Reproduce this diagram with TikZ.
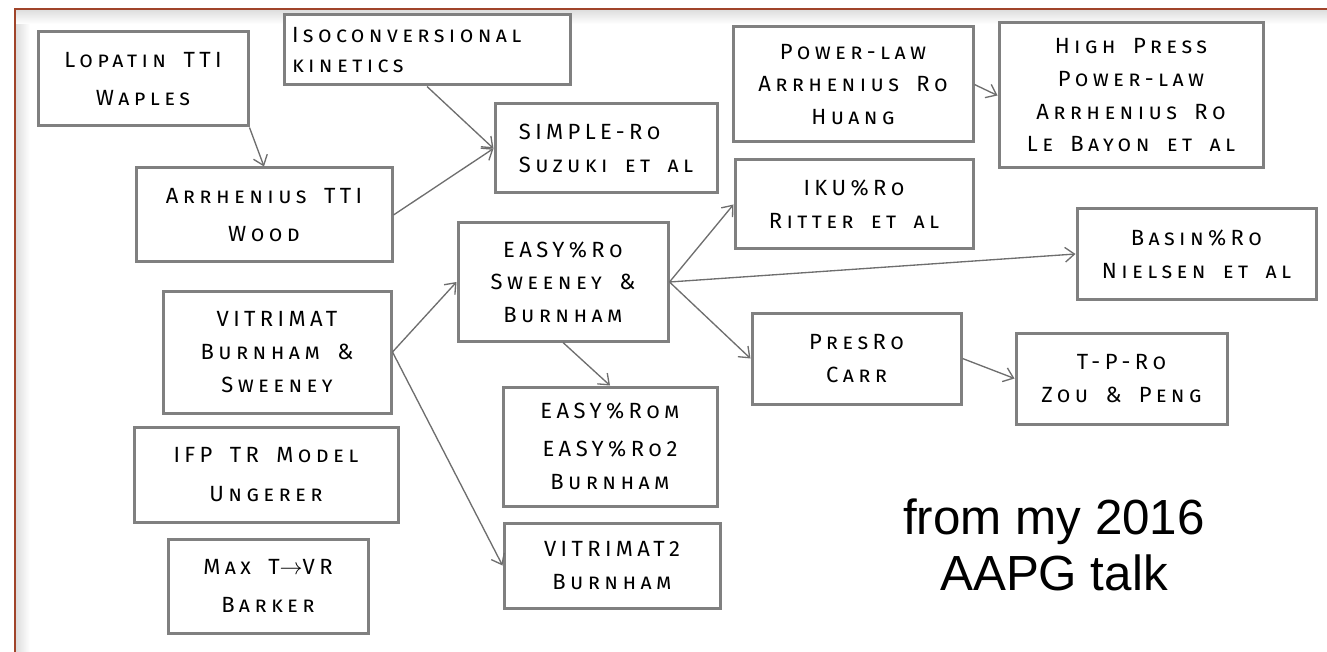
\documentclass[tikz,border=0pt]{standalone}
\usepackage{fontspec}
\setmainfont{Fira Sans}[LetterSpace=20, WordSpace=1.7]
\newfontfamily\talkfont{Liberation Sans}
\usetikzlibrary{arrows.meta}
\usepackage{xcolor}
\definecolor{framebrown}{HTML}{A0442A}
\definecolor{boxgray}{HTML}{808080}
\definecolor{arrowgray}{HTML}{6E6E6E}

\begin{document}
\begin{tikzpicture}[x=0.75pt,y=-0.75pt,
  model/.style={draw=boxgray, line width=2.25pt, fill=white, inner sep=0pt, align=center,
    font=\fontsize{16.5}{24.5}\selectfont\scshape},
  loose/.style={font=\fontsize{16.5}{29}\selectfont\scshape},
  boxsize/.style 2 args={minimum width=#1*0.75pt, minimum height=#2*0.75pt},
  link/.style={draw=arrowgray, line width=1pt, -{Straight Barb[length=7pt,width=11pt]}}]
\useasboundingbox (0,0) rectangle (1327,652);
% slide frame
\shade[left color=black!13, right color=white] (16,10) rectangle (30,652);
\shade[top color=black!13, bottom color=white] (16,10) rectangle (1327,24);
\draw[framebrown, line width=1.5pt] (15,652) -- (15,9) -- (1327,9);

% left column
\node[model, loose, boxsize={210}{94}] (lopatin) at (143,79) {Lopatin TTI\\Waples};
\node[model, boxsize={286}{70}, align=left, text width=202.5pt, inner xsep=6pt,
  font=\fontsize{16.5}{23}\selectfont\scshape] (iso) at (427,50) {Isoconversional\\kinetics};
\node[model, loose, boxsize={256}{94}] (arrh) at (264,215) {Arrhenius TTI\\Wood};
\node[model, boxsize={228}{122}] (vitri) at (277,352) {VITRIMAT\\Burnham \&\\Sweeney};
\node[model, loose, boxsize={264}{95}] (ifp) at (266,474.5) {IFP TR Model\\Ungerer};
\node[model, loose, boxsize={200}{94}] (maxt) at (268,586) {Max T{\fontsize{18}{18}\selectfont$\rightarrow$}VR\\Barker};

% middle
\node[model, boxsize={222}{89}, align=left] (simple) at (606,148.5) {SIMPLE-Ro\\Suzuki et al};
\node[model, boxsize={210}{118}] (easy) at (563,282) {EASY\%Ro\\Sweeney \&\\Burnham};
\node[model, boxsize={214}{119}] (easym) at (610,446.5) {EASY\%Rom\\[4pt]EASY\%Ro2\\Burnham};
\node[model, boxsize={216}{85}] (vitri2) at (612,565.5) {VITRIMAT2\\Burnham};

% right
\node[model, boxsize={240}{115}] (power) at (853,84.5) {Power-law\\Arrhenius Ro\\Huang};
\node[model, boxsize={264}{145}] (high) at (1131,95.5) {High Press\\Power-law\\Arrhenius Ro\\Le Bayon et al};
\node[model, boxsize={238}{89}] (iku) at (854,204.5) {IKU\%Ro\\Ritter et al};
\node[model, boxsize={239}{90}] (basin) at (1196.5,254) {Basin\%Ro\\Nielsen et al};
\node[model, boxsize={209}{91}] (pres) at (856.5,358.5) {PresRo\\Carr};
\node[model, boxsize={211}{91}] (tpro) at (1121.5,378.5) {T-P-Ro\\Zou \& Peng};

\node[font=\talkfont\fontsize{37}{42}\selectfont, align=center] (talk) at (1054,545) {from my 2016\\AAPG talk};

% connectors
\draw[link] (lopatin.south east) -- (arrh.north);
\draw[link] (iso.south) -- (simple.west);
\draw[link] (arrh.east) -- (simple.west);
\draw[link] (vitri.east) -- (easy.west);
\draw[link] (vitri.east) -- (vitri2.west);
\draw[link] (easy.east) -- (iku.west);
\draw[link] (easy.east) -- (basin.west);
\draw[link] (easy.east) -- (pres.west);
\draw[link] (easy.south) -- (easym.north);
\draw[link] (pres.east) -- (tpro.west);
\draw[link] (power.east) -- (high.west);
\end{tikzpicture}
\end{document}
